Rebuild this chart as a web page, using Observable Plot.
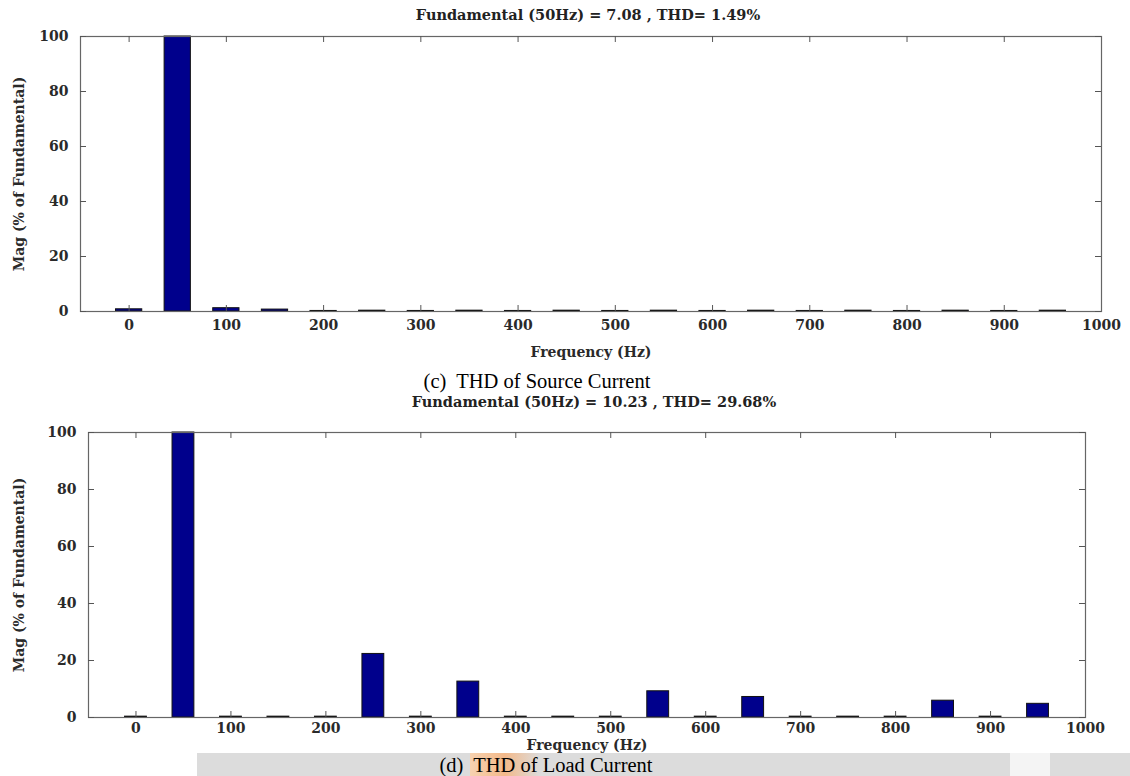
<!DOCTYPE html>
<html>
<head>
<meta charset="utf-8">
<script src="https://cdn.jsdelivr.net/npm/d3@7"></script>
<script src="https://cdn.jsdelivr.net/npm/@observablehq/plot@0.6"></script>
<style>
  html, body { margin: 0; padding: 0; background: #fff; }
  #root { position: relative; width: 1130px; height: 776px; overflow: hidden; background: #fff; }
  .abs { position: absolute; }
  .title { font-family: "DejaVu Serif", serif; font-weight: bold; font-size: 14.5px; color: #222; white-space: pre; transform: translate(-50%, -50%); }
  .cap { font-family: "Liberation Serif", "Times New Roman", serif; font-size: 20.5px; color: #000; white-space: pre; transform: translate(-50%, -50%); }
  .band { background: #dcdcdc; }
</style>
</head>
<body>
<div id="root">
  <div class="abs band" style="left:197px; top:753px; width:933px; height:23px;"></div>
  <div class="abs" style="left:470px; top:753px; width:70px; height:23px; background:linear-gradient(90deg,#f7d2b0,#f3b98a 50%,#dcdcdc);"></div>
  <div class="abs" style="left:1010px; top:753px; width:40px; height:23px; background:#f4f4f4;"></div>
  <div class="abs title" id="t1" style="left:588px; top:14px;"></div>
  <div class="abs cap" id="c1" style="left:537px; top:381px;"></div>
  <div class="abs title" id="t2" style="left:594px; top:401px;"></div>
  <div class="abs cap" id="c2" style="left:546px; top:765px;"></div>
  <div class="abs" id="p1" style="left:0; top:20px;"></div>
  <div class="abs" id="p2" style="left:0; top:416px;"></div>
</div>
<script>
// Harmonic bins (Hz)
const freqs = [0, 50, 100, 150, 200, 250, 300, 350, 400, 450, 500, 550, 600, 650, 700, 750, 800, 850, 900, 950];
// (c) Source current magnitudes (% of fundamental)
const sourceMag = [0.8, 100, 1.2, 0.7, 0.2, 0.3, 0.2, 0.3, 0.2, 0.3, 0.2, 0.3, 0.2, 0.3, 0.2, 0.3, 0.2, 0.3, 0.2, 0.3];
// (d) Load current magnitudes (% of fundamental)
const loadMag = [0.3, 100, 0.3, 0.3, 0.3, 22.3, 0.3, 12.6, 0.3, 0.3, 0.3, 9.2, 0.3, 7.2, 0.3, 0.3, 0.3, 5.9, 0.3, 4.8];
// Tick labels
const xTicks = [0, 100, 200, 300, 400, 500, 600, 700, 800, 900, 1000];
const yTicks = [0, 20, 40, 60, 80, 100];
const titles = ["Fundamental (50Hz) = 7.08 , THD= 1.49%", "Fundamental (50Hz) = 10.23 , THD= 29.68%"];
const captions = ["(c)  THD of Source Current", "(d)  THD of Load Current"];
const xLabel = "Frequency (Hz)";
const yLabel = "Mag (% of Fundamental)";

document.getElementById("t1").textContent = titles[0];
document.getElementById("t2").textContent = titles[1];
document.getElementById("c1").textContent = captions[0];
document.getElementById("c2").textContent = captions[1];

function spectrum(values, cfg) {
  const data = freqs.map((f, i) => ({f, v: values[i]}));
  const pw = cfg.width - cfg.ml - cfg.mr;
  const ph = cfg.height - cfg.mt - cfg.mb;
  const tk = 6;
  const halfW = cfg.barHalf;
  return Plot.plot({
    width: cfg.width,
    height: cfg.height,
    marginLeft: cfg.ml, marginRight: cfg.mr, marginTop: cfg.mt, marginBottom: cfg.mb,
    style: {fontFamily: "DejaVu Serif, serif", fontWeight: "bold", fontSize: "14px", color: "#2a2a2a", background: "transparent"},
    x: {domain: [-50, 1000]},
    y: {domain: [0, 100]},
    marks: [
      Plot.rectY(data, {x1: d => d.f - halfW, x2: d => d.f + halfW, y: "v", fill: "#00008c", stroke: "#111", strokeWidth: 1}),
      Plot.frame({stroke: "#666", strokeWidth: 1.2}),
      // inward ticks (bottom, top, left, right)
      Plot.tickX(xTicks.filter(t => t < 1000), {x: d => d, insetTop: ph - tk, stroke: "#555"}),
      Plot.tickX(xTicks.filter(t => t < 1000), {x: d => d, insetBottom: ph - tk, stroke: "#555"}),
      Plot.tickY(yTicks, {y: d => d, insetRight: pw - tk, stroke: "#555"}),
      Plot.tickY(yTicks, {y: d => d, insetLeft: pw - tk, stroke: "#555"}),
      Plot.axisX({ticks: xTicks, tickSize: 0, tickPadding: cfg.xpad, label: xLabel, labelAnchor: "center", labelArrow: "none", labelOffset: cfg.xlo, tickFormat: d => String(d)}),
      Plot.axisY({ticks: yTicks, tickSize: 0, tickPadding: 12, label: yLabel, labelAnchor: "center", labelArrow: "none", labelOffset: cfg.ylo, tickFormat: d => String(d)})
    ]
  });
}

document.getElementById("p1").appendChild(spectrum(sourceMag, {
  width: 1130, height: 350, ml: 80, mr: 29, mt: 16, mb: 59, xpad: 9, xlo: 45, ylo: 66, barHalf: 13.5
}));
document.getElementById("p2").appendChild(spectrum(loadMag, {
  width: 1130, height: 340, ml: 88, mr: 45, mt: 16, mb: 39, xpad: 6, xlo: 32, ylo: 74, barHalf: 11.5
}));
</script>
</body>
</html>
